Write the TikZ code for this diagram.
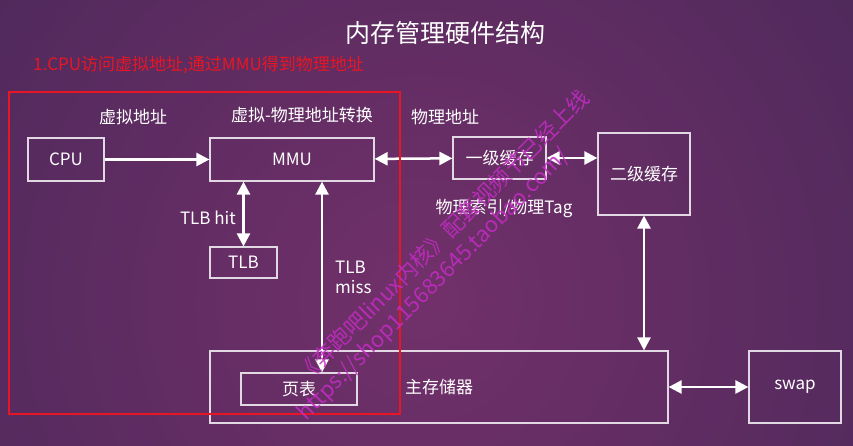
\documentclass[tikz,border=0pt]{standalone}
\usepackage{fontspec}
\setmainfont{Noto Sans CJK SC}
\usetikzlibrary{arrows.meta}

\definecolor{bgdark}{RGB}{46,35,78}
\definecolor{bglight}{RGB}{114,48,106}
\definecolor{boxline}{RGB}{226,216,228}
\definecolor{alertred}{RGB}{232,22,34}
\definecolor{wmarkpink}{RGB}{196,44,196}

\begin{document}
\begin{tikzpicture}[x=1pt,y=-1pt,
  box/.style={draw=boxline,line width=1.2pt,text=white,font=\fontsize{17}{20}\selectfont,inner sep=0pt},
  lbl/.style={text=white,font=\fontsize{17}{20}\selectfont,inner sep=0pt},
  link/.style={draw=white,line width=2.5pt},
  wmark/.style={text=wmarkpink,opacity=0.85,font=\fontsize{22}{24}\selectfont,rotate=45,inner sep=0pt},
  >={Triangle[length=13pt,width=13pt]}]
\useasboundingbox (0,0) rectangle (853,446);
\fill[bgdark] (0,0) rectangle (853,446);
\begin{scope}
\clip (0,0) rectangle (853,446);
\shade[inner color=bglight,outer color=bgdark] (420,300) circle (1060);
\end{scope}

\node[lbl,font=\fontsize{25}{28}\selectfont] (title) at (445,33) {内存管理硬件结构};
\node[lbl,text=alertred,anchor=west] (step1) at (33,65) {1.CPU访问虚拟地址,通过MMU得到物理地址};

\node[box,minimum width=76pt,minimum height=43pt] (cpu) at (66,159.5) {CPU};
\node[box,minimum width=164pt,minimum height=43pt] (mmu) at (292,159.5) {MMU};
\node[box,minimum width=93pt,minimum height=42pt] (l1) at (499.5,158) {一级缓存};
\node[box,minimum width=92pt,minimum height=82pt] (l2) at (644,174) {二级缓存};
\node[box,minimum width=67pt,minimum height=31pt] (tlb) at (243.5,262.5) {TLB};
\node[box,minimum width=458pt,minimum height=72pt] (mem) at (439,387) {主存储器};
\node[box,minimum width=116pt,minimum height=32pt] (pte) at (299,389) {页表};
\node[box,minimum width=92pt,minimum height=72pt] (swap) at (795,387) {swap};

\node[lbl] (vaddr) at (133,117) {虚拟地址};
\node[lbl] (xlate) at (302,115) {虚拟-物理地址转换};
\node[lbl] (paddr) at (445,117) {物理地址};
\node[lbl] (ptag) at (504,208) {物理索引/物理Tag};
\node[lbl,anchor=east] (hit) at (236,218) {TLB hit};
\node[lbl,anchor=west,align=left] (miss) at (335,277) {TLB\\miss};

\coordinate (missbot) at ([xshift=23pt]pte.north);
\path[link,->] (cpu) -- (mmu);
\path[link,<->] (mmu) -- (l1);
\path[link,<->] (l1.east) -- (l1.east -| l2.west);
\path[link,<->] (mmu.south -| tlb.north) -- (tlb.north);
\path[link,<->] (missbot |- mmu.south) -- (missbot);
\path[link,<->] (l2.south) -- (l2.south |- mem.north);
\path[link,<->] (mem) -- (swap);

\node[draw=alertred,line width=2pt,minimum width=391pt,minimum height=322pt,inner sep=0pt] (scope1) at (204.5,253) {};

\node[wmark] (wm1) at (443,236) {《奔跑吧linux内核》配套视频节已经上线};
\node[wmark] (wm2) at (434,285) {https://shop115683645.taobao.com/};
\end{tikzpicture}
\end{document}
